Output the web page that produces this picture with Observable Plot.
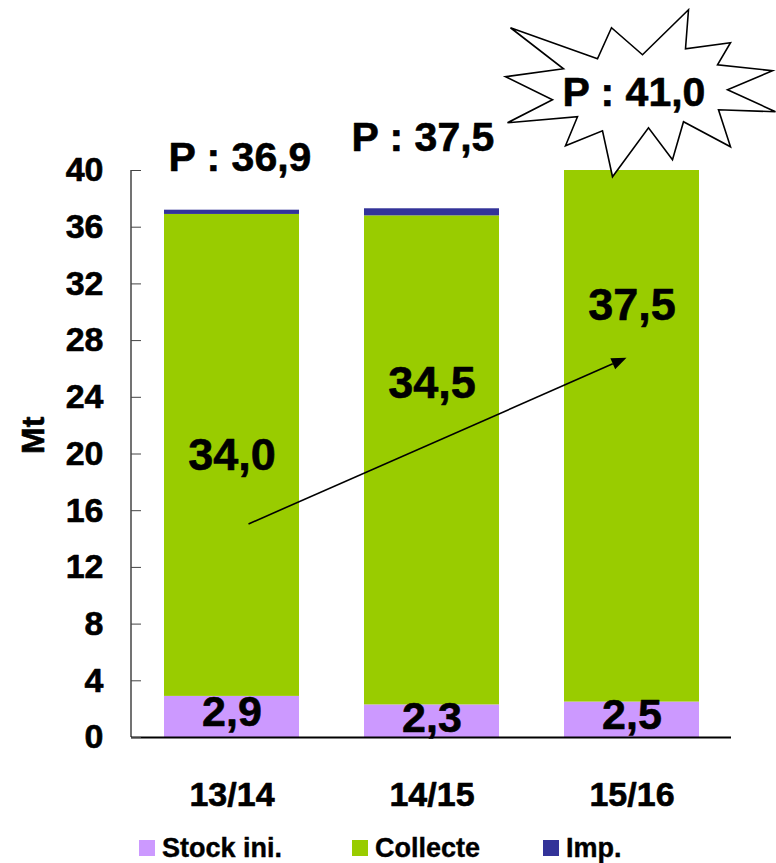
<!DOCTYPE html>
<html>
<head>
<meta charset="utf-8">
<script src="https://cdn.jsdelivr.net/npm/d3@7"></script>
<script src="https://cdn.jsdelivr.net/npm/@observablehq/plot@0.6"></script>
<style>
  body { margin: 0; background: #fff; font-family: "Liberation Sans", Arial, sans-serif; }
  #chart { width: 776px; }
  #legend { position: relative; width: 776px; height: 33px; font-weight: bold; font-size: 27px; color: #000; -webkit-text-stroke: 0.4px #000; }
  .item { position: absolute; top: 3px; display: flex; align-items: center; height: 30px; }
  .sw { width: 16px; height: 16px; margin-right: 7px; }
</style>
</head>
<body>
<div id="chart"></div>
<div id="legend"></div>
<script>
// ---- data ----
const seasons = ["13/14", "14/15", "15/16"];
const stockIni = [2.9, 2.3, 2.5];
const collecte = [34.0, 34.5, 37.5];
const imports = [0.3, 0.5, 0.0];
const seriesNames = ["Stock ini.", "Collecte", "Imp."];
const seriesColors = ["#CC99FF", "#99CC00", "#333399"];
const stockLabels = ["2,9", "2,3", "2,5"];
const collecteLabels = ["34,0", "34,5", "37,5"];
const productionLabels = ["P : 36,9", "P : 37,5", "P : 41,0"];
const stockLabelAt = [1.75, 1.35, 1.55];
const collecteLabelAt = [19.9, 25.0, 30.5];
const productionLabelAt = [40.9, 42.3, 45.45];
const productionLabelShift = [8, -9, 2];
const yTicks = [0, 4, 8, 12, 16, 20, 24, 28, 32, 36, 40];
const yLabel = "Mt";
const trendFrom = {season: "13/14", value: 15.03};
const trendTo = {season: "15/16", value: 26.75};

// ---- table ----
const rows = seasons.flatMap((s, i) => [
  {season: s, series: seriesNames[0], value: stockIni[i]},
  {season: s, series: seriesNames[1], value: collecte[i]},
  {season: s, series: seriesNames[2], value: imports[i]}
]);

const FONT = '"Liberation Sans", Arial, sans-serif';

function bandCenter(x, v) {
  const bw = typeof x.bandwidth === "function" ? x.bandwidth() : (x.bandwidth || 0);
  return x(v) + bw / 2;
}

function yAxisLine(index, {y}, values, dims) {
  const g = d3.create("svg:g");
  g.append("line")
    .attr("x1", dims.marginLeft).attr("x2", dims.marginLeft)
    .attr("y1", y(0)).attr("y2", y(yTicks[yTicks.length - 1]))
    .attr("stroke", "#444").attr("stroke-width", 1.5);
  return g.node();
}

function trendArrow(index, {x, y}) {
  const x0 = bandCenter(x, trendFrom.season) + 17, y0 = y(trendFrom.value);
  const x1 = bandCenter(x, trendTo.season) - 5, y1 = y(trendTo.value);
  const dx = x1 - x0, dy = y1 - y0, L = Math.hypot(dx, dy);
  const ux = dx / L, uy = dy / L, nx = -uy, ny = ux;
  const hl = 15, hw = 6;
  const bx = x1 - hl * ux, by = y1 - hl * uy;
  const g = d3.create("svg:g");
  g.append("line").attr("x1", x0).attr("y1", y0).attr("x2", bx).attr("y2", by)
    .attr("stroke", "#000").attr("stroke-width", 1.6);
  g.append("path")
    .attr("d", `M${x1},${y1}L${bx + hw * nx},${by + hw * ny}L${bx - hw * nx},${by - hw * ny}Z`)
    .attr("fill", "#000");
  return g.node();
}

// star outline (pixel offsets around its centre)
const starShape = [[-130,-65],[-43,-34],[-29,-65],[2,-38],[48,-83],[45,-44],[90,-50],[77,-28],
  [132,-22],[87,-3],[135,19],[78,17],[90,54],[43,29],[32,67],[8,35],[-28,84],[-38,38],
  [-75,53],[-63,24],[-133,30],[-88,7],[-135,-16],[-77,-24]];

function starBurst(index, {x, y}) {
  const cx = bandCenter(x, seasons[2]) + 9, cy = y(productionLabelAt[2]);
  const g = d3.create("svg:g");
  g.append("path")
    .attr("d", "M" + starShape.map(([a, b]) => `${cx + a},${cy + b}`).join("L") + "Z")
    .attr("fill", "#fff").attr("stroke", "#000").attr("stroke-width", 1.6).attr("stroke-linejoin", "miter");
  return g.node();
}

const textBase = {fill: "#000", fontWeight: "bold", fontFamily: FONT, stroke: "#000", strokeWidth: 0.6};

const chart = Plot.plot({
  width: 776,
  height: 830,
  marginLeft: 131,
  marginRight: 45,
  marginTop: 170,
  marginBottom: 93,
  style: {fontFamily: FONT, background: "#fff", color: "#000", overflow: "visible"},
  x: {domain: seasons, paddingInner: 0.325, paddingOuter: 0.1625, label: null, axis: null},
  y: {domain: [0, 40], label: null},
  color: {domain: seriesNames, range: seriesColors},
  marks: [
    Plot.barY(rows, {x: "season", y: "value", fill: "series"}),
    yAxisLine,
    Plot.ruleY([0], {stroke: "#000", strokeWidth: 2}),
    Plot.axisY({ticks: yTicks, tickSize: -10, tickFormat: () => "", stroke: "#444", label: null}),
    Plot.text(yTicks, {y: d => d, text: d => String(d), frameAnchor: "left", dx: -28, textAnchor: "end", lineAnchor: "middle", fontSize: 34, ...textBase}),
    Plot.text(seasons, {x: d => d, frameAnchor: "bottom", dy: 58, lineAnchor: "middle", text: d => d, fontSize: 34, ...textBase}),
    Plot.text([yLabel], {frameAnchor: "left", dx: -98, rotate: -90, lineAnchor: "middle", text: d => d, fontSize: 32, ...textBase}),
    Plot.text(seasons, {x: d => d, y: (d, i) => collecteLabelAt[i], text: (d, i) => collecteLabels[i], fontSize: 45, ...textBase}),
    Plot.text(seasons, {x: d => d, y: (d, i) => stockLabelAt[i], text: (d, i) => stockLabels[i], fontSize: 43, ...textBase}),
    trendArrow,
    starBurst,
    ...seasons.map((s, i) => Plot.text([s], {x: d => d, y: () => productionLabelAt[i], text: () => productionLabels[i], dx: productionLabelShift[i], fontSize: 41, ...textBase}))
  ]
});
document.getElementById("chart").append(chart);

// legend
const legendLeft = [139, 352, 543];
const legend = document.getElementById("legend");
seriesNames.forEach((name, i) => {
  const item = document.createElement("div");
  item.className = "item";
  item.style.left = legendLeft[i] + "px";
  const sw = document.createElement("span");
  sw.className = "sw";
  sw.style.background = seriesColors[i];
  const t = document.createElement("span");
  t.textContent = name;
  item.append(sw, t);
  legend.append(item);
});
</script>
</body>
</html>
